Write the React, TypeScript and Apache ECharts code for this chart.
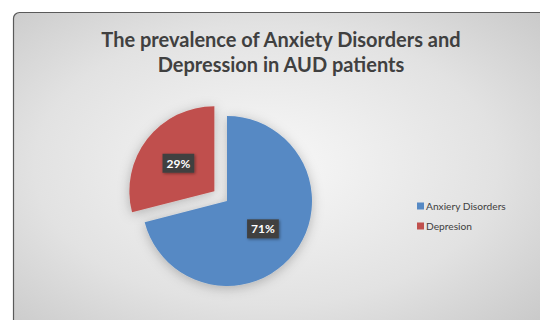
import React, { useEffect, useRef } from "react";
import * as echarts from "echarts";

const titleText = "The prevalence of Anxiety Disorders and\nDepression in AUD patients";
const categories = ["Anxiery Disorders", "Depresion"];
const values = [71, 29];
const colors = ["#5689C4", "#C0504D"];

export default function App() {
  const ref = useRef<HTMLDivElement>(null);
  useEffect(() => {
    if (!ref.current) return;
    const chart = echarts.init(ref.current, null, { renderer: "svg" });
    chart.setOption({
      animation: false,
      backgroundColor: "#ffffff",
      graphic: [
        {
          type: "rect",
          z: -10,
          shape: { x: 13.5, y: 12.5, width: 560, height: 340, r: [6, 0, 0, 0] },
          style: {
            fill: new echarts.graphic.RadialGradient(0.45, 0.45, 0.75, [
              { offset: 0, color: "#f8f8f8" },
              { offset: 0.55, color: "#e2e2e2" },
              { offset: 1, color: "#c2c2c2" },
            ]),
            stroke: "#5a5a5a",
            lineWidth: 1.2,
          },
        },
      ],
      title: {
        text: titleText,
        left: 276,
        top: 21,
        textAlign: "center",
        textStyle: {
          fontFamily: "Lato",
          fontWeight: "bold",
          fontSize: 20,
          lineHeight: 25,
          color: "#404040",
        },
      },
      legend: {
        orient: "vertical",
        left: 412,
        top: 196,
        icon: "rect",
        itemWidth: 7,
        itemHeight: 7,
        itemGap: 10,
        textStyle: { fontFamily: "Lato", fontSize: 10.2, color: "#404040", padding: [0, 0, 0, -3] },
        data: categories,
      },
      series: [
        {
          type: "pie",
          center: [227, 201],
          radius: 85,
          startAngle: 90,
          clockwise: true,
          selectedMode: "single",
          selectedOffset: 16,
          emphasis: { disabled: true },
          itemStyle: {
            shadowBlur: 12,
            shadowColor: "rgba(0,0,0,0.25)",
            shadowOffsetX: 0,
            shadowOffsetY: 2,
          },
          label: {
            show: true,
            position: "inner",
            formatter: "{d}%",
            fontFamily: "Lato",
            fontWeight: "bold",
            fontSize: 12,
            color: "#ffffff",
            backgroundColor: "#404040",
            padding: [4, 4, 3, 4],
            shadowBlur: 3,
            shadowColor: "rgba(0,0,0,0.4)",
            shadowOffsetX: 1,
            shadowOffsetY: 1,
          },
          labelLine: { show: false },
          data: categories.map((c, i) => ({
            name: c,
            value: values[i],
            selected: i === 1,
            itemStyle: { color: colors[i] },
          })),
        },
      ],
    });
    return () => chart.dispose();
  }, []);
  return (
    <div
      ref={ref}
      style={{ position: "fixed", left: 0, top: 0, width: 540, height: 320 }}
    />
  );
}
